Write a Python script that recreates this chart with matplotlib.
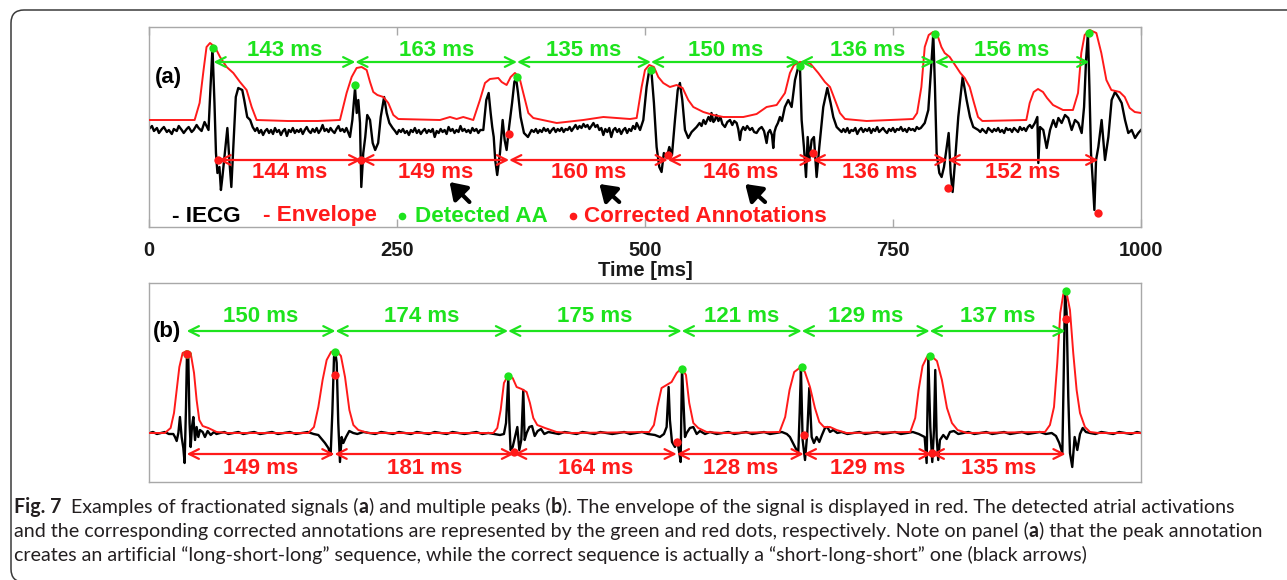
import numpy as np
import matplotlib
matplotlib.use("Agg")
import matplotlib.pyplot as plt
from matplotlib.patches import FancyBboxPatch
from matplotlib.transforms import IdentityTransform

GREEN = "#1de31d"
RED = "#ff1a1a"
FRAME = "#a8a8a8"

# ---- panel (a): fractionated signal (time in ms, amplitude in a.u.) ----
iecg_a = [
    (0, -2), (3, 1), (5, -4), (8, -1), (10, -6), (13, -2), (15, 0), (18, -5), (20, -3), (23, -7),
    (25, -2), (28, -4), (30, 1), (33, -3), (35, -6), (38, -2), (40, 0), (43, -5), (45, -3), (48, 2),
    (50, -1), (53, -4), (56, 5), (60, -3), (62, 40), (64, 79), (66, 24), (67.5, -26), (69, -46),
    (71, -40), (72.5, -63), (74, -50), (76.5, -26), (79, -1), (81, -33), (83, -60), (85, -20),
    (87.5, 30), (90, 39), (94, 37), (96, 27), (99, 10), (102, 7), (104.5, 0),
    (107, -4), (109, -1), (111, -6), (113, -3), (115, -8), (117, -4), (119, -2), (121, -6), (123, -3),
    (125, -7), (127, -1), (129, -5), (131, -3), (133, -8), (135, -4), (137, -2), (139, -9), (141, -3),
    (143, -5), (145, -1), (147, -6), (149, -3), (151, -5), (153, -2), (155, -7), (157, -3), (159, 0),
    (161, -4), (163, -6), (165, -2), (167, -5), (169, -1), (171, -6), (173, -3), (175, 2), (177, -4),
    (179, -2), (181, -5), (183, -1), (185, -4), (187, -6), (189, -2), (191, 1), (193, -4), (195, -2),
    (197, -5), (199, -1),
    (202.6, -10), (205, 7), (207.7, 39), (209.4, 14), (211, 27), (212.7, 4), (214, -60), (216, -26),
    (218, -10), (220, 12), (222.8, 7), (225.5, -16), (228, -23), (231, -16), (233.6, 10), (237, 30),
    (239.6, 14), (242.3, 4), (245.6, -1),
    (248, -4), (250, -7), (252, -3), (254, -5), (256, -2), (258, -6), (260, -4), (262, -8), (264, -3),
    (266, -5), (268, -1), (270, -6), (272, -3), (274, -7), (276, -4), (278, -2), (280, -6), (282, -3),
    (284, -5), (286, -2), (288, -10), (290, -4), (292, -6), (294, -2), (296, -5), (298, -3), (300, -7),
    (302, 0), (304, -4), (306, -2), (308, -6), (310, -3), (312, -5), (314, 1), (316, -4), (318, -2),
    (320, -5), (322, -3), (324, -6), (326, -1), (328, -4), (330, -2), (332, -6), (334, -3),
    (337, -3), (340, 27), (342.4, 34), (344.4, 14), (346, 0), (347.5, -10), (349, -33), (351, -48),
    (353.8, -26), (356.5, 7), (358.5, -13), (360.5, -23), (363, 0), (366, 24), (368.3, 45), (370, 49),
    (372, 34), (374.6, 10), (378, -6), (382, -10), (385.7, -3),
    (388, -5), (390, -2), (392, -6), (394, -3), (396, -5), (398, -1), (400, -4), (402, -2), (404, -6),
    (406, -3), (408, -1), (410, -5), (412, -2), (414, -4), (416, -1), (418, -5), (420, -2), (422, -3),
    (424, 0), (426, -4), (428, -1), (430, 2), (432, -2), (434, 1), (436, -1), (438, 3), (440, 0),
    (442, 2), (444, -2), (446, 1), (448, 4), (450, 0), (452, 2), (454, -3), (456, -1), (458, -8),
    (460, -2), (462, -5), (464, -1), (466, -10), (468, -3), (470, -1), (472, -5), (474, -2), (476, -7),
    (478, -3), (480, -1), (482, -6), (484, -2), (486, -4), (488, 1), (490, -2),
    (491.6, 4), (495, -3), (498.3, 7), (501.6, 40), (504.3, 57), (506.6, 54), (509, 24), (511.7, -20),
    (514.4, -40), (516.7, -45), (519, -26), (521.8, -31), (524.5, -20), (527.2, -28), (530.2, 7),
    (533, 37), (535.2, 44), (537.6, 27), (540.3, -3), (543.6, -11), (547, -5),
    (550, -2), (552, 0), (555, 4), (557, 1), (559, 7), (561, 3), (564, 10), (566, 6), (567, 14),
    (569, 5), (570.5, 7), (572, 12), (574, 6), (576, 10), (578, 3), (580.6, 0), (583, 5), (585.7, 7),
    (588, 2), (590, 6), (592.4, 4), (594, -2), (595.7, -13), (597, -4), (599, 0), (601, -3), (603, 1),
    (605.8, -3), (608, -1), (610, -5), (612.5, -6), (615, -2), (617.6, 0), (620, -4), (622.6, -16),
    (624, -6), (626, -3), (628, -8), (629.3, -21), (630.5, -5), (632, 0), (634, 4), (636, 10),
    (638, 6), (641, 20),
    (644.4, 27), (647.8, 20), (651.2, 47), (654.5, 60), (656.2, 60), (657.9, 7), (660.2, -20),
    (662.3, -50), (664, -10), (665.6, -33), (668, -13), (670.3, -10), (673, -50), (675.7, -20),
    (679.7, 20), (683.8, 39), (687.1, 24), (689.8, 10), (693.2, 0), (698.2, -5),
    (700, -2), (702, -5), (704, -1), (706, -6), (708, -3), (710, -4), (712, -1), (714, -7), (716, -3),
    (718, -1), (720, -5), (722, -2), (724, -4), (726, -1), (728, -6), (730, -2), (732, -4), (734, 0),
    (736, -5), (738, -3), (740, -1), (742, -4), (744, -6), (746, -2), (748, -4), (750, -1), (752, -5),
    (754, -2), (756, -3), (758, 0), (760, -4), (762, -2), (764, -5), (766, -1), (768, -3), (770, -2),
    (772, -4), (774, 0), (776, -2), (778, -1),
    (782, 4), (785.6, 17), (788.3, 57), (790.6, 93), (792.3, 40), (794, -26), (796.7, -46), (799, -50),
    (801.4, -40), (804.1, -20), (806.1, -6), (808.1, -46), (810.1, -65), (812.4, -36), (815.8, 10),
    (820.2, 50), (824.2, 27), (827.6, 10), (830.9, 0), (836, -3),
    (838, -5), (840, -2), (842, -4), (844, -6), (846, -1), (848, -3), (850, -5), (852, -2), (854, -4),
    (856, -1), (858, -5), (860, -3), (862, -6), (864, -1), (866, -3), (868, -2), (870, -5), (872, -1),
    (874, -3), (876, -5), (878, 0), (880, -3), (882, -1), (884, -4), (886, 0), (888, 2), (890, -1),
    (893, 4), (895.5, 10), (896.5, -36), (898.2, 0), (901.5, -3), (904.9, -21), (908.3, -3),
    (911.6, 7), (914.3, 0), (916.7, 9), (920, 4), (923.4, 12), (926.7, 9), (930.1, -3), (933.5, 7),
    (936.8, 4), (940.2, -6), (942.6, 20), (944.6, 67), (946.5, 94), (948, 40), (949.6, -26),
    (951.3, -53), (953, -83), (954.7, -33), (957, -20), (960.3, 7), (963.7, -33), (967.1, -10),
    (970.4, 27), (973.8, 35), (977.1, 30), (980.5, 24), (983.9, 7), (987.2, -6), (990.6, -3),
    (994, -11), (997.3, -6), (1000, -3),
]

envelope_a = [
    (0, 7), (46, 7), (51, 24), (55, 57), (58, 80), (61.5, 84), (66.5, 80), (71.6, 70), (78.3, 60),
    (85, 54), (91.7, 45), (98.4, 37), (103.5, 20), (108.5, 7), (140, 6), (170, 6), (192.5, 7),
    (199.2, 34), (204.3, 50), (209.3, 59), (214.3, 60), (219.4, 57), (222.8, 45), (226.1, 35),
    (230.2, 32), (236.2, 30), (241.2, 24), (246.3, 12), (251.3, 8), (293.3, 7), (303.4, 10),
    (310.1, 8), (316.8, 10), (326.9, 7), (333.6, 27), (338.7, 44), (343.7, 48), (352.1, 49),
    (355.5, 45), (360.5, 42), (364.6, 50), (368.9, 54), (373.3, 50), (377.3, 34), (382.4, 14),
    (387.4, 9), (411, 4), (437.8, 7), (458, 10), (484.9, 8), (491.6, 9), (496.6, 40), (500, 57),
    (504.3, 62), (509, 60), (513.4, 50), (518.4, 44), (525.1, 40), (531.9, 42), (537.9, 39),
    (543.6, 27), (548.7, 20), (558.8, 15), (568.9, 12), (579, 10), (599.1, 10), (612.5, 13),
    (622.6, 20), (632.7, 22), (641.1, 34), (646.1, 54), (650.2, 62), (656.2, 65), (666.2, 64),
    (674.7, 54), (681.4, 45), (686.5, 40), (691.5, 27), (696.5, 14), (701.6, 8), (723.4, 6),
    (746.9, 7), (770.2, 8), (774.3, 14), (778.6, 40), (782, 80), (786, 92), (790.4, 95), (795.4, 90),
    (798.8, 80), (802.1, 74), (807.2, 70), (813.9, 60), (817.9, 54), (822.3, 49), (827.3, 40),
    (831.4, 25), (835.7, 10), (840.1, 6), (884.4, 7), (887.8, 24), (891.8, 35), (896.2, 38),
    (901.2, 35), (905.3, 29), (911.3, 22), (921.4, 17), (931.4, 17), (936.5, 34), (939.8, 74),
    (943.2, 92), (948.3, 97), (955, 94), (960, 74), (965.1, 47), (970.1, 37), (978.5, 35),
    (983.6, 30), (988.6, 19), (993.7, 15), (1000, 14),
]

# detected activations: first time + intervals, amplitude of each dot
detected_a_start = 65
detected_a_ms = [143, 163, 135, 150, 136, 156]
detected_a_amp = [79, 42, 50, 57, 61, 93, 94]
corrected_a_start = 70
corrected_a_ms = [144, 149, 160, 146, 136, 152]
corrected_a_amp = [-33, -33, -7, -28, -26, -61, -86]

# black arrows pointing at the short/long/short intervals (head, tail)
black_arrows = [((303, -55), (323, -75)), ((454, -57), (474, -75)), ((601, -57), (621, -75))]

# ---- panel (b): multiple peaks ----
iecg_b = [
    (0, -50), (4, -49), (8, -51), (12, -50), (16, -49), (20, -51), (24.5, -51), (26.2, -54),
    (27.9, -58), (29.6, -50), (31.2, -34), (32.9, -54), (34.6, -65), (35.9, -80), (37.3, -24),
    (38.3, 31), (39.6, 26), (40.9, -40), (42, -64), (43.3, -44), (44.7, -34), (46.4, -57), (48, -44),
    (49.7, -54), (51.4, -47), (54.1, -49), (56.4, -54), (59.1, -48), (62.2, -52), (65.5, -49),
    (68, -51), (71.6, -50), (76, -49), (80, -51), (85, -50), (90, -49), (95, -51), (100, -50),
    (106, -49), (112, -51), (118, -50), (124, -49), (130, -51), (136, -50), (142, -49), (148, -51),
    (154, -50), (160, -49), (166, -51), (170.7, -52), (174, -56), (177.4, -60), (180.8, -65),
    (183.1, -72), (184.8, -30), (186.5, 26), (187.8, 31), (189.2, 20), (190.8, -40), (192.5, -79),
    (194.2, -54), (195.9, -60), (198.6, -54), (201.9, -48), (205.9, -50), (210, -51), (216, -49),
    (222, -50), (228, -51), (234, -49), (240, -50), (246, -51), (252, -49), (258, -50), (264, -51),
    (270, -49), (276, -50), (282, -51), (288, -49), (294, -50), (300, -51), (306, -49), (312, -50),
    (318, -51), (324, -50), (330, -49), (336, -51), (342, -50), (348, -51), (353.8, -52),
    (357.8, -51), (359.9, -40), (362.2, 5), (363.2, -37), (364.5, -67), (366.6, -64), (368.9, -54),
    (371.3, -44), (373.3, -67), (375.3, -57), (377.3, -7), (378.7, -57), (380.7, -50), (383.4, -44),
    (386.1, -43), (388.8, -53), (391.8, -48), (395.2, -46), (398.5, -51), (402.6, -49), (407.6, -50),
    (413, -51), (419, -49), (425, -50), (431, -51), (437, -49), (443, -50), (449, -51), (455, -49),
    (461, -50), (467, -51), (473, -50), (479, -49), (485, -51), (491, -50), (497, -49), (503, -51),
    (510, -52), (515, -54), (519.1, -51), (521.8, -44), (523.8, -4), (525.1, -37), (527.2, -59),
    (530.2, -64), (532.5, -57), (534.6, -70), (535.9, -79), (537.3, 15), (538.6, -14), (540.3, -54),
    (542, -50), (545.3, -45), (548.7, -44), (552.1, -51), (555.4, -48), (560.5, -51), (565.5, -49),
    (572.2, -51), (578, -50), (584, -49), (590, -51), (596, -50), (602, -49), (608, -51), (614, -50),
    (620, -49), (626, -51), (632, -50), (638, -49), (643, -51), (646.1, -54), (651.2, -64),
    (654.5, -70), (655.9, -30), (657.2, 15), (658.9, -57), (661.3, -77), (663.6, -50), (665.6, -5),
    (668, -54), (670.3, -60), (673, -54), (675.7, -59), (678.4, -52), (681.4, -45), (683.8, -44),
    (686.5, -49), (689.8, -47), (693.8, -50), (698.2, -49), (704, -51), (710, -50), (716, -49),
    (722, -51), (728, -50), (734, -49), (740, -51), (746, -50), (752, -49), (758, -51), (764, -50),
    (770, -49), (776, -51), (781.9, -54), (783.9, -80), (785.6, 26), (787.6, -44), (789.6, -79),
    (791.3, -47), (792.6, 13), (794, -54), (795.6, -77), (797.3, -57), (800.7, -52), (804.1, -56),
    (807.4, -49), (811.4, -48), (815.8, -51), (820.8, -50), (826, -49), (832, -51), (838, -50),
    (844, -49), (850, -51), (856, -50), (862, -49), (868, -51), (874, -50), (880, -49), (886, -51),
    (892, -50), (898, -49), (904, -51), (910, -50), (914.3, -53), (917.6, -60), (920.7, -70),
    (922, 3), (923.4, 91), (925, 70), (926.7, -14), (928.4, -70), (930.7, -84), (933.1, -54),
    (935.8, -67), (938.5, -51), (941.2, -45), (944.5, -49), (948.6, -50), (954, -51), (960, -49),
    (966, -50), (972, -51), (978, -49), (984, -50), (990, -51), (996, -49), (1000, -50),
]

envelope_b = [
    (0, -50), (16, -50), (21.8, -45), (25.2, -30), (27.9, -7), (30.6, 16), (33.9, 30), (37.9, 32),
    (42, 30), (45.4, 10), (48, -17), (50.7, -37), (54.1, -43), (59.8, -45), (68.2, -49), (79.9, -50),
    (160.6, -50), (166.3, -44), (170.7, -24), (175, 3), (179.1, 23), (183.5, 31), (188.5, 33),
    (193.5, 27), (197.6, 6), (202, -27), (206, -42), (211, -47), (221.1, -50), (347.1, -50),
    (351.1, -45), (354.5, -27), (357.8, 0), (362.2, 8), (366.6, 5), (370.6, -4), (375.6, -6),
    (380.7, -9), (384, -20), (387.4, -35), (391.4, -42), (399.2, -45), (410.9, -49), (424.4, -50),
    (504.3, -49), (509, -42), (512.4, -24), (516.7, -5), (521.8, -2), (526.8, 1), (531.9, 10),
    (536.9, 15), (541.3, 8), (544.6, -20), (548.7, -40), (553.7, -45), (562.1, -49), (578.9, -50),
    (635.6, -49), (641.3, -34), (645.7, -7), (650.4, 11), (657.2, 16), (661.2, 11), (666.3, -4),
    (671.3, -25), (675.7, -39), (680.4, -44), (686.5, -44), (693.2, -47), (703.2, -50), (767.4, -49),
    (772.4, -35), (775.8, -7), (779.8, 17), (784.2, 26), (788.6, 27), (794.3, 22), (799.3, 3),
    (804.4, -25), (809.4, -40), (815.1, -47), (824.5, -50), (903.2, -49), (908.2, -42), (912.3, -24),
    (915.6, 20), (918.6, 70), (921.7, 89), (925, 90), (928.4, 73), (931.7, 30), (935.1, -7),
    (938.5, -30), (943.5, -44), (948.6, -49), (957, -50), (1000, -50),
]

detected_b_start = 38
detected_b_ms = [150, 174, 175, 121, 129, 137]
detected_b_amp = [29, 31, 7, 14, 16, 27, 92]
corrected_b_start = 38
corrected_b_ms = [149, 181, 164, 128, 129, 135]
corrected_b_amp = [29, 8, -69, -59, -52, -70, 64]

caption = [
    [("Fig. 7", "bold"), ("  Examples of fractionated signals (", "normal"), ("a", "bold"),
     (") and multiple peaks (", "normal"), ("b", "bold"),
     ("). The envelope of the signal is displayed in red. The detected atrial activations", "normal")],
    [("and the corresponding corrected annotations are represented by the green and red dots, "
      "respectively. Note on panel (", "normal"), ("a", "bold"), (") that the peak annotation", "normal")],
    [("creates an artificial \u201clong-short-long\u201d sequence, while the correct sequence is "
      "actually a \u201cshort-long-short\u201d one (black arrows)", "normal")],
]

plt.rcParams["font.family"] = ["Liberation Sans", "DejaVu Sans"]

W, H = 1287, 580
fig = plt.figure(figsize=(W / 100, H / 100), dpi=100)
fig.patch.set_facecolor("white")

# outer rounded caption box (right and bottom sides run off the canvas)
box = FancyBboxPatch((11, -2), 1400, H - 8, boxstyle="round,pad=0,rounding_size=13",
                     transform=IdentityTransform(), fill=False, ec="#3a3a3a", lw=1.1)
fig.patches.append(box)

ax_a = fig.add_axes([149 / W, 1 - 227 / H, 992 / W, 200 / H])
ax_b = fig.add_axes([149 / W, 1 - 482 / H, 992 / W, 199 / H])


def interval_arrows(ax, start, intervals, y_arrow, y_text, color):
    t = start
    for d in intervals:
        ax.annotate("", xy=(t + d, y_arrow), xytext=(t, y_arrow),
                    arrowprops=dict(arrowstyle="<->,head_length=0.7,head_width=0.35",
                                    color=color, lw=1.6, shrinkA=0, shrinkB=0,
                                    mutation_scale=10))
        ax.text(t + d / 2, y_text, f"{d} ms", color=color, fontsize=16,
                fontweight="bold", ha="center", va="center")
        t += d


def draw_panel(ax, iecg, env, det, corr, ylim):
    t, v = np.array(iecg).T
    te, ve = np.array(env).T
    ax.plot(t, v, color="black", lw=1.7, zorder=2)
    ax.plot(te, ve, color=RED, lw=1.4, zorder=3)

    det_t = np.cumsum([det[0]] + det[1])
    corr_t = np.cumsum([corr[0]] + corr[1])
    ax.plot(det_t, det[2], "o", color=GREEN, ms=6, mec="none", zorder=5)
    ax.plot(corr_t, corr[2], "o", color=RED, ms=6, mec="none", zorder=6)

    ax.set_xlim(0, 1000)
    ax.set_ylim(*ylim)
    for s in ax.spines.values():
        s.set_color(FRAME)
        s.set_linewidth(1.0)
    ax.set_yticks([])


draw_panel(ax_a, iecg_a, envelope_a,
           (detected_a_start, detected_a_ms, detected_a_amp),
           (corrected_a_start, corrected_a_ms, corrected_a_amp), (-100, 100))
interval_arrows(ax_a, detected_a_start, detected_a_ms, 65, 77, GREEN)
interval_arrows(ax_a, corrected_a_start, corrected_a_ms, -33, -45, RED)
for head, tail in black_arrows:
    ax_a.annotate("", xy=head, xytext=tail,
                  arrowprops=dict(arrowstyle="-|>,head_length=0.6,head_width=0.4",
                                  color="black", lw=3, shrinkA=0, shrinkB=0,
                                  mutation_scale=16))
ax_a.text(6, 49, "(a)", fontsize=16, fontweight="bold", ha="left", va="center")

# legend written as coloured text
leg_y = -89
leg_size = 16.2
ax_a.text(23, leg_y, "- IECG", fontsize=leg_size, fontweight="bold", color="black", va="center")
ax_a.text(115, leg_y, "- Envelope", fontsize=leg_size, fontweight="bold", color=RED, va="center")
ax_a.plot([255], [leg_y], "o", color=GREEN, ms=5.5, mec="none")
ax_a.text(268, leg_y, "Detected AA", fontsize=leg_size, fontweight="bold", color=GREEN,
          va="center")
ax_a.plot([427], [leg_y], "o", color=RED, ms=5.5, mec="none")
ax_a.text(439, leg_y, "Corrected Annotations", fontsize=leg_size, fontweight="bold", color=RED,
          va="center")

ax_a.set_xticks([0, 250, 500, 750, 1000])
ax_a.tick_params(axis="x", direction="in", top=True, length=6, width=1, color=FRAME,
                 pad=10, labelsize=14.5, labelcolor="#1a1a1a")
for lab in ax_a.get_xticklabels():
    lab.set_fontweight("bold")
ax_a.set_xlabel("Time [ms]", fontsize=14.5, fontweight="bold", color="#1a1a1a", labelpad=1)

draw_panel(ax_b, iecg_b, envelope_b,
           (detected_b_start, detected_b_ms, detected_b_amp),
           (corrected_b_start, corrected_b_ms, corrected_b_amp), (-99, 100))
interval_arrows(ax_b, detected_b_start, detected_b_ms, 52, 66, GREEN)
interval_arrows(ax_b, corrected_b_start, corrected_b_ms, -71, -86, RED)
ax_b.set_xticks([])
ax_b.text(4, 51, "(b)", fontsize=16, fontweight="bold", ha="left", va="center")

# caption, mixed bold / regular runs laid out one after another
renderer = fig.canvas.get_renderer()
cap_font = ["Lato", "DejaVu Sans"]
line_y = [507, 531, 555]
for parts, py in zip(caption, line_y):
    x = 14
    for s, weight in parts:
        txt = fig.text(x, H - py, s, transform=IdentityTransform(), fontsize=14.1,
                       fontweight=weight, family=cap_font, color="#231f20", va="center")
        x += txt.get_window_extent(renderer=renderer).width

fig.savefig("out.png", dpi=100)
